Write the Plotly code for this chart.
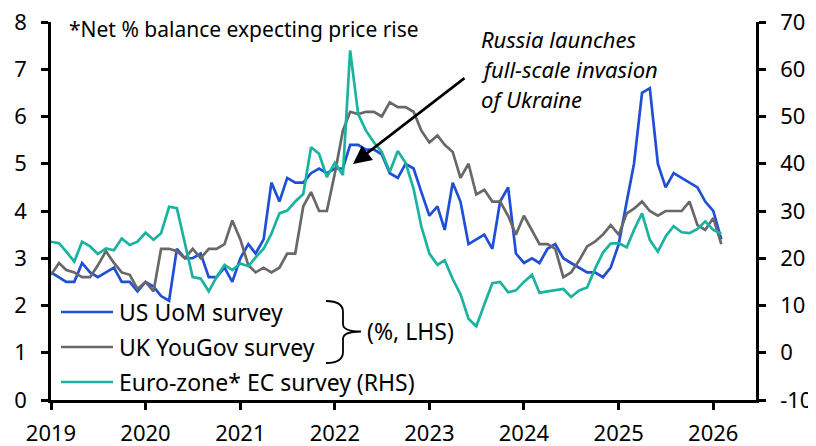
import pandas as pd
import plotly.graph_objects as go

# ---------------- data ----------------
dates = pd.date_range("2019-01-01", periods=86, freq="MS")

us_uom = [
    2.7, 2.6, 2.5, 2.5, 2.9, 2.7, 2.6, 2.7, 2.8, 2.5, 2.5, 2.3,
    2.5, 2.4, 2.2, 2.1, 3.2, 3.0, 3.0, 3.1, 2.6, 2.6, 2.8, 2.5,
    3.0, 3.3, 3.1, 3.4, 4.6, 4.2, 4.7, 4.6, 4.6, 4.8, 4.9, 4.8,
    4.9, 4.9, 5.4, 5.4, 5.3, 5.3, 5.2, 4.8, 4.7, 5.0, 4.9, 4.4,
    3.9, 4.1, 3.6, 4.6, 4.2, 3.3, 3.4, 3.5, 3.2, 4.2, 4.5, 3.1,
    2.9, 3.0, 2.9, 3.2, 3.3, 3.0, 2.9, 2.8, 2.7, 2.7, 2.6, 2.8,
    3.3, 4.2, 5.0, 6.5, 6.6, 5.0, 4.5, 4.8, 4.7, 4.6, 4.5, 4.2,
    4.0, 3.4,
]

uk_yougov = [
    2.65, 2.9, 2.75, 2.7, 2.6, 2.6, 2.85, 3.15, 2.9, 2.7, 2.65, 2.35,
    2.5, 2.3, 3.2, 3.2, 3.15, 3.0, 3.2, 3.0, 3.2, 3.2, 3.3, 3.8,
    3.4, 2.85, 2.7, 2.8, 2.7, 2.8, 3.1, 3.1, 4.1, 4.4, 4.0, 4.0,
    4.8, 5.7, 6.1, 6.05, 6.1, 6.1, 6.0, 6.3, 6.2, 6.2, 6.1, 5.7,
    5.45, 5.6, 5.4, 5.25, 4.7, 5.0, 4.35, 4.45, 4.2, 4.2, 3.9, 3.5,
    3.9, 3.6, 3.3, 3.3, 3.2, 2.6, 2.7, 2.95, 3.25, 3.35, 3.5, 3.7,
    3.5, 3.95, 4.05, 4.2, 4.0, 3.9, 4.0, 4.0, 4.0, 4.2, 3.7, 3.6,
    3.85, 3.3,
]

ez_ec = [
    23.5, 23.2, 21.4, 19.3, 23.5, 22.5, 20.9, 22.1, 21.7, 24.2, 22.8, 23.5,
    25.4, 23.9, 25.3, 30.9, 30.6, 23.0, 16.0, 15.7, 13.0, 16.0, 18.6, 17.5,
    18.9, 18.3, 20.2, 22.0, 25.2, 29.5, 30.1, 32.0, 33.6, 43.5, 42.1, 37.2,
    40.2, 37.6, 64.0, 50.5, 47.0, 44.5, 42.5, 38.3, 42.7, 40.2, 34.7, 26.7,
    21.0, 18.6, 19.6, 15.6, 12.4, 7.2, 5.6, 10.2, 14.7, 15.0, 12.8, 13.2,
    15.0, 16.5, 12.7, 13.0, 13.2, 13.5, 11.8, 13.2, 13.8, 17.7, 21.2, 23.1,
    23.2, 22.3, 26.0, 29.5, 23.9, 21.4, 24.6, 26.8, 25.5, 25.3, 26.2, 27.8,
    26.0, 25.2,
]

x_tick_years = ["2019", "2020", "2021", "2022", "2023", "2024", "2025", "2026"]
left_ticks = [0, 1, 2, 3, 4, 5, 6, 7, 8]
right_ticks = [-10, 0, 10, 20, 30, 40, 50, 60, 70]
right_tick_text = ["-10", "0", "10", "20", "30", "40", "50", "60", "70"]

series_names = ["US UoM survey", "UK YouGov survey", "Euro-zone* EC survey (RHS)"]
note_text = "*Net % balance expecting price rise"
event_lines = ["Russia launches", "full-scale invasion", "of Ukraine"]
brace_label = "(%, LHS)"

# ---------------- style ----------------
BLUE = "#1f4fd6"
GREY = "#686868"
TEAL = "#19b3a0"
COLORS = [BLUE, GREY, TEAL]
FONT = "Noto Sans"
FS_TICK = 22
FS_LEG = 23
FS_NOTE = 21
FS_EVENT = 22

W, H = 816, 446
OFF = 8  # the page body adds an 8px margin; shift the figure content back by it
# plot area in the final screenshot: x 51..756, y 22..400
ML, MT = 51 - OFF, 22 - OFF
MR, MB = W - (756 - OFF), H - (400 - OFF)
PW, PH = 705, 378


def px(xp):
    return (xp - 51) / PW


def py(yp):
    return (400 - yp) / PH


fig = go.Figure()
fig.add_trace(go.Scatter(x=dates, y=us_uom, name=series_names[0], mode="lines",
                         line=dict(color=BLUE, width=2.7)))
fig.add_trace(go.Scatter(x=dates, y=uk_yougov, name=series_names[1], mode="lines",
                         line=dict(color=GREY, width=2.7)))
fig.add_trace(go.Scatter(x=dates, y=ez_ec, name=series_names[2], mode="lines",
                         line=dict(color=TEAL, width=2.7), yaxis="y2"))

axis_common = dict(showgrid=False, zeroline=False, showline=True, linecolor="black",
                   linewidth=2.5, ticks="outside", ticklen=7, tickwidth=2.5,
                   tickcolor="black", automargin=False, ticklabeloverflow="allow",
                   tickfont=dict(family=FONT, size=FS_TICK, color="black"))

fig.update_layout(
    width=W, height=H, template="none",
    paper_bgcolor="white", plot_bgcolor="white",
    margin=dict(l=ML, r=MR, t=MT, b=MB, autoexpand=False),
    font=dict(family=FONT, size=FS_LEG, color="black"),
    xaxis=dict(**axis_common, type="date",
               range=["2019-01-01", "2026-06-15"],
               tickvals=[f"{y}-01-01" for y in x_tick_years],
               ticktext=x_tick_years, ticklabelstandoff=5),
    yaxis=dict(**axis_common, range=[0, 8], tickvals=left_ticks,
               ticklabelstandoff=10),
    yaxis2=dict(**axis_common, range=[-10, 70], tickvals=right_ticks,
                ticktext=right_tick_text, overlaying="y", side="right",
                ticklabelstandoff=10),
    showlegend=False,
)

# legend drawn as line samples + labels
for i, (name, col) in enumerate(zip(series_names, COLORS)):
    yy = 312 + 35 * i
    fig.add_shape(type="line", xref="paper", yref="paper", x0=px(61), x1=px(113),
                  y0=py(yy), y1=py(yy), line=dict(color=col, width=2.7))
    fig.add_annotation(xref="paper", yref="paper", x=px(117), y=py(yy),
                       xanchor="left", yanchor="middle", text=name, showarrow=False,
                       font=dict(family=FONT, size=FS_LEG, color="black"))

# footnote text
fig.add_annotation(xref="paper", yref="paper", x=px(67), y=py(29), xanchor="left",
                   yanchor="middle", text=note_text, showarrow=False,
                   font=dict(family=FONT, size=FS_NOTE, color="black"))

# event text (italic), one line per annotation
for i, line in enumerate(event_lines):
    fig.add_annotation(xref="paper", yref="paper", x=px(479), y=py(39 + 30 * i),
                       xanchor="left", yanchor="middle", text=f"<i>{line}</i>",
                       showarrow=False, font=dict(family=FONT, size=FS_EVENT, color="black"))

# arrow
fig.add_annotation(xref="paper", yref="paper", x=px(353), y=py(164), text="",
                   showarrow=True, ax=113, ay=-87, arrowhead=2, arrowsize=1.4,
                   arrowwidth=2.6, arrowcolor="black", standoff=0)

# brace
def pt(a, b):
    return f"{px(a):.5f},{py(b):.5f}"

brace = (f"M{pt(326, 301)} Q{pt(343, 301)} {pt(343, 312)} L{pt(343, 324)} "
         f"Q{pt(343, 331.5)} {pt(361, 331.5)} Q{pt(343, 331.5)} {pt(343, 339)} "
         f"L{pt(343, 352)} Q{pt(343, 363)} {pt(326, 363)}")
fig.add_shape(type="path", xref="paper", yref="paper", path=brace,
              line=dict(color="black", width=1.8))

fig.add_annotation(xref="paper", yref="paper", x=px(365), y=py(331), xanchor="left",
                   yanchor="middle", text=brace_label, showarrow=False,
                   font=dict(family=FONT, size=FS_LEG, color="black"))

fig.write_html("out.html")
